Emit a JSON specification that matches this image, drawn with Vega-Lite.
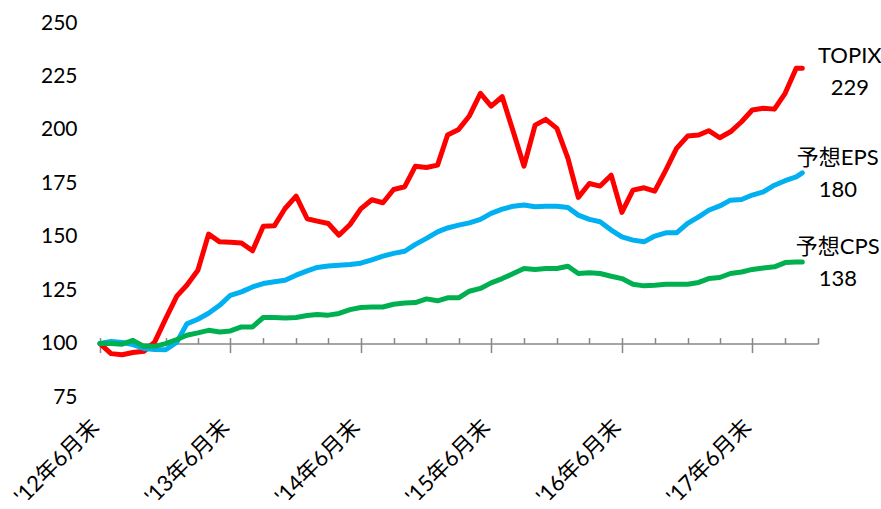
{
  "$schema": "https://vega.github.io/schema/vega-lite/v6.json",
  "width": 718,
  "height": 374,
  "autosize": {"type": "none"},
  "padding": {"left": 100, "top": 23, "right": 63, "bottom": 112},
  "background": "white",
  "config": {"view": {"stroke": null}, "font": "Lato, 'Noto Sans CJK JP'"},
  "datasets": {
    "series": [
      {"date": "2012-06-30", "t": 100, "e": 100, "c": 100},
      {"date": "2012-07-31", "t": 95.3, "e": 101.0, "c": 100},
      {"date": "2012-08-31", "t": 94.8, "e": 100.5, "c": 99.7},
      {"date": "2012-09-30", "t": 95.8, "e": 99.5, "c": 101.5},
      {"date": "2012-10-31", "t": 96.4, "e": 97.7, "c": 98.7},
      {"date": "2012-11-30", "t": 100.7, "e": 97.2, "c": 98.7},
      {"date": "2012-12-31", "t": 111.7, "e": 97.1, "c": 100.0},
      {"date": "2013-01-31", "t": 122.2, "e": 100.6, "c": 101.9},
      {"date": "2013-02-28", "t": 127.3, "e": 109.2, "c": 103.9},
      {"date": "2013-03-31", "t": 134.3, "e": 111.4, "c": 105.0},
      {"date": "2013-04-30", "t": 151.2, "e": 114.2, "c": 106.2},
      {"date": "2013-05-31", "t": 147.6, "e": 117.9, "c": 105.4},
      {"date": "2013-06-30", "t": 147.4, "e": 122.6, "c": 105.9},
      {"date": "2013-07-31", "t": 147.1, "e": 124.2, "c": 107.8},
      {"date": "2013-08-31", "t": 143.4, "e": 126.5, "c": 107.8},
      {"date": "2013-09-30", "t": 154.9, "e": 128.1, "c": 112.2},
      {"date": "2013-10-31", "t": 155.1, "e": 128.9, "c": 112.2},
      {"date": "2013-11-30", "t": 163.2, "e": 129.6, "c": 112.0},
      {"date": "2013-12-31", "t": 169.0, "e": 132.0, "c": 112.2},
      {"date": "2014-01-31", "t": 158.4, "e": 134.0, "c": 113.1},
      {"date": "2014-02-28", "t": 157.3, "e": 135.6, "c": 113.6},
      {"date": "2014-03-31", "t": 156.2, "e": 136.3, "c": 113.3},
      {"date": "2014-04-30", "t": 150.7, "e": 136.7, "c": 114.1},
      {"date": "2014-05-31", "t": 155.7, "e": 137.0, "c": 115.9},
      {"date": "2014-06-30", "t": 163.0, "e": 137.6, "c": 116.9},
      {"date": "2014-07-31", "t": 167.3, "e": 139.2, "c": 117.1},
      {"date": "2014-08-31", "t": 165.9, "e": 140.9, "c": 117.1},
      {"date": "2014-09-30", "t": 172.1, "e": 142.2, "c": 118.4},
      {"date": "2014-10-31", "t": 173.4, "e": 143.2, "c": 119.0},
      {"date": "2014-11-30", "t": 183.0, "e": 146.4, "c": 119.2},
      {"date": "2014-12-31", "t": 182.4, "e": 149.2, "c": 120.9},
      {"date": "2015-01-31", "t": 183.5, "e": 152.3, "c": 120.0},
      {"date": "2015-02-28", "t": 197.6, "e": 154.1, "c": 121.4},
      {"date": "2015-03-31", "t": 200.2, "e": 155.4, "c": 121.4},
      {"date": "2015-04-30", "t": 206.5, "e": 156.5, "c": 124.5},
      {"date": "2015-05-31", "t": 217.1, "e": 158.1, "c": 125.8},
      {"date": "2015-06-30", "t": 211.1, "e": 160.9, "c": 128.4},
      {"date": "2015-07-31", "t": 215.5, "e": 162.9, "c": 130.4},
      {"date": "2015-08-31", "t": 199.1, "e": 164.3, "c": 132.8},
      {"date": "2015-09-30", "t": 183.0, "e": 164.8, "c": 135.1},
      {"date": "2015-10-31", "t": 202.2, "e": 164.0, "c": 134.7},
      {"date": "2015-11-30", "t": 204.9, "e": 164.3, "c": 135.1},
      {"date": "2015-12-31", "t": 200.7, "e": 164.3, "c": 135.1},
      {"date": "2016-01-31", "t": 186.7, "e": 163.7, "c": 136.2},
      {"date": "2016-02-29", "t": 168.4, "e": 160.1, "c": 132.8},
      {"date": "2016-03-31", "t": 174.9, "e": 158.1, "c": 133.1},
      {"date": "2016-04-30", "t": 173.7, "e": 157.0, "c": 132.8},
      {"date": "2016-05-31", "t": 178.8, "e": 153.1, "c": 131.5},
      {"date": "2016-06-30", "t": 161.4, "e": 149.9, "c": 130.4},
      {"date": "2016-07-31", "t": 171.8, "e": 148.4, "c": 127.8},
      {"date": "2016-08-31", "t": 172.9, "e": 147.6, "c": 127.0},
      {"date": "2016-09-30", "t": 171.3, "e": 150.3, "c": 127.3},
      {"date": "2016-10-31", "t": 181.2, "e": 151.8, "c": 127.8},
      {"date": "2016-11-30", "t": 191.3, "e": 151.8, "c": 127.8},
      {"date": "2016-12-31", "t": 197.1, "e": 156.2, "c": 127.8},
      {"date": "2017-01-31", "t": 197.6, "e": 159.3, "c": 128.6},
      {"date": "2017-02-28", "t": 199.6, "e": 162.4, "c": 130.4},
      {"date": "2017-03-31", "t": 196.3, "e": 164.4, "c": 130.9},
      {"date": "2017-04-30", "t": 199.1, "e": 167.1, "c": 132.8},
      {"date": "2017-05-31", "t": 203.8, "e": 167.4, "c": 133.5},
      {"date": "2017-06-30", "t": 209.3, "e": 169.5, "c": 134.7},
      {"date": "2017-07-31", "t": 210.1, "e": 171.0, "c": 135.4},
      {"date": "2017-08-31", "t": 209.7, "e": 174.1, "c": 135.9},
      {"date": "2017-09-30", "t": 217.1, "e": 176.2, "c": 137.9},
      {"date": "2017-10-31", "t": 228.8, "e": 178.0, "c": 138.2},
      {"date": "2017-11-17", "t": 228.8, "e": 179.9, "c": 138.2}
    ],
    "labels": [
      {"date": "2017-11-17", "s": "t", "v": 228.8, "label": "TOPIX\n229"},
      {"date": "2017-11-17", "s": "e", "v": 179.9, "label": "予想EPS\n180"},
      {"date": "2017-11-17", "s": "c", "v": 138.2, "label": "予想CPS\n138"}
    ]
  },
  "encoding": {
    "y": {
      "field": "v",
      "type": "quantitative",
      "scale": {"domain": [75, 250], "nice": false, "zero": false},
      "axis": {
        "values": [75, 100, 125, 150, 175, 200, 225, 250],
        "domain": false,
        "ticks": false,
        "grid": false,
        "title": null,
        "labelFont": "Lato",
        "labelFontSize": 21,
        "labelColor": "#000000",
        "labelPadding": 23
      }
    }
  },
  "layer": [
    {
      "data": {"name": "series"},
      "transform": [{"fold": ["t", "e", "c"], "as": ["s", "v"]}],
      "mark": {"type": "line", "strokeWidth": 5, "strokeJoin": "round", "strokeCap": "round"},
      "encoding": {
        "x": {
          "field": "date",
          "type": "temporal",
          "scale": {"type": "utc", "domain": [{"year": 2012, "month": 6, "date": 30, "utc": true}, {"year": 2017, "month": 12, "date": 31, "utc": true}]},
          "axis": {
            "orient": "bottom",
            "values": [
              {"year": 2012, "month": 6, "date": 30, "utc": true},
              {"year": 2013, "month": 6, "date": 30, "utc": true},
              {"year": 2014, "month": 6, "date": 30, "utc": true},
              {"year": 2015, "month": 6, "date": 30, "utc": true},
              {"year": 2016, "month": 6, "date": 30, "utc": true},
              {"year": 2017, "month": 6, "date": 30, "utc": true}
            ],
            "domain": false,
            "ticks": false,
            "grid": false,
            "title": null,
            "labelAngle": -45,
            "labelAlign": "right",
            "labelBaseline": "middle",
            "labelPadding": 26,
            "labelOffset": -5,
            "labelFontSize": 22,
            "labelColor": "#000000",
            "labelOverlap": false,
            "labelBound": false,
            "labelFlush": false,
            "labelExpr": "\"'\" + utcFormat(datum.value, '%y') + '年6月末'"
          }
        },
        "color": {
          "field": "s",
          "type": "nominal",
          "scale": {"domain": ["t", "e", "c"], "range": ["#FF0000", "#00B0F0", "#00B050"]},
          "legend": null
        }
      }
    },
    {
      "data": {"name": "labels"},
      "transform": [{"filter": "datum.s === 't'"}],
      "mark": {"type": "text", "align": "center", "baseline": "middle", "dx": 47.5, "dy": -12, "fontSize": 22, "lineBreak": "\n", "lineHeight": 32, "color": "#000000"},
      "encoding": {
        "x": {
          "field": "date",
          "type": "temporal",
          "scale": {"type": "utc", "domain": [{"year": 2012, "month": 6, "date": 30, "utc": true}, {"year": 2017, "month": 12, "date": 31, "utc": true}]},
          "axis": {
            "orient": "bottom",
            "values": [
              {"year": 2012, "month": 6, "date": 30, "utc": true},
              {"year": 2012, "month": 9, "date": 30, "utc": true},
              {"year": 2012, "month": 12, "date": 31, "utc": true},
              {"year": 2013, "month": 3, "date": 31, "utc": true},
              {"year": 2013, "month": 6, "date": 30, "utc": true},
              {"year": 2013, "month": 9, "date": 30, "utc": true},
              {"year": 2013, "month": 12, "date": 31, "utc": true},
              {"year": 2014, "month": 3, "date": 31, "utc": true},
              {"year": 2014, "month": 6, "date": 30, "utc": true},
              {"year": 2014, "month": 9, "date": 30, "utc": true},
              {"year": 2014, "month": 12, "date": 31, "utc": true},
              {"year": 2015, "month": 3, "date": 31, "utc": true},
              {"year": 2015, "month": 6, "date": 30, "utc": true},
              {"year": 2015, "month": 9, "date": 30, "utc": true},
              {"year": 2015, "month": 12, "date": 31, "utc": true},
              {"year": 2016, "month": 3, "date": 31, "utc": true},
              {"year": 2016, "month": 6, "date": 30, "utc": true},
              {"year": 2016, "month": 9, "date": 30, "utc": true},
              {"year": 2016, "month": 12, "date": 31, "utc": true},
              {"year": 2017, "month": 3, "date": 31, "utc": true},
              {"year": 2017, "month": 6, "date": 30, "utc": true},
              {"year": 2017, "month": 9, "date": 30, "utc": true},
              {"year": 2017, "month": 12, "date": 31, "utc": true}
            ],
            "offset": -53.43,
            "domain": true,
            "domainColor": "#878787",
            "domainWidth": 1.5,
            "ticks": true,
            "tickSize": -6,
            "tickColor": "#878787",
            "tickWidth": 1.5,
            "labels": false,
            "grid": false,
            "title": null
          }
        },
        "text": {"field": "label", "type": "nominal"}
      }
    },
    {
      "data": {"name": "labels"},
      "transform": [{"filter": "datum.s !== 't'"}],
      "mark": {"type": "text", "align": "center", "baseline": "middle", "dx": 35.5, "dy": -15, "fontSize": 22, "lineBreak": "\n", "lineHeight": 32, "color": "#000000"},
      "encoding": {
        "x": {
          "field": "date",
          "type": "temporal",
          "scale": {"type": "utc", "domain": [{"year": 2012, "month": 6, "date": 30, "utc": true}, {"year": 2017, "month": 12, "date": 31, "utc": true}]},
          "axis": {
            "orient": "bottom",
            "values": [
              {"year": 2012, "month": 6, "date": 30, "utc": true},
              {"year": 2013, "month": 6, "date": 30, "utc": true},
              {"year": 2014, "month": 6, "date": 30, "utc": true},
              {"year": 2015, "month": 6, "date": 30, "utc": true},
              {"year": 2016, "month": 6, "date": 30, "utc": true},
              {"year": 2017, "month": 6, "date": 30, "utc": true}
            ],
            "offset": -53.43,
            "domain": false,
            "ticks": true,
            "tickSize": 9,
            "tickColor": "#878787",
            "tickWidth": 1.5,
            "labels": false,
            "grid": false,
            "title": null
          }
        },
        "text": {"field": "label", "type": "nominal"}
      }
    }
  ],
  "resolve": {"axis": {"x": "independent"}}
}
